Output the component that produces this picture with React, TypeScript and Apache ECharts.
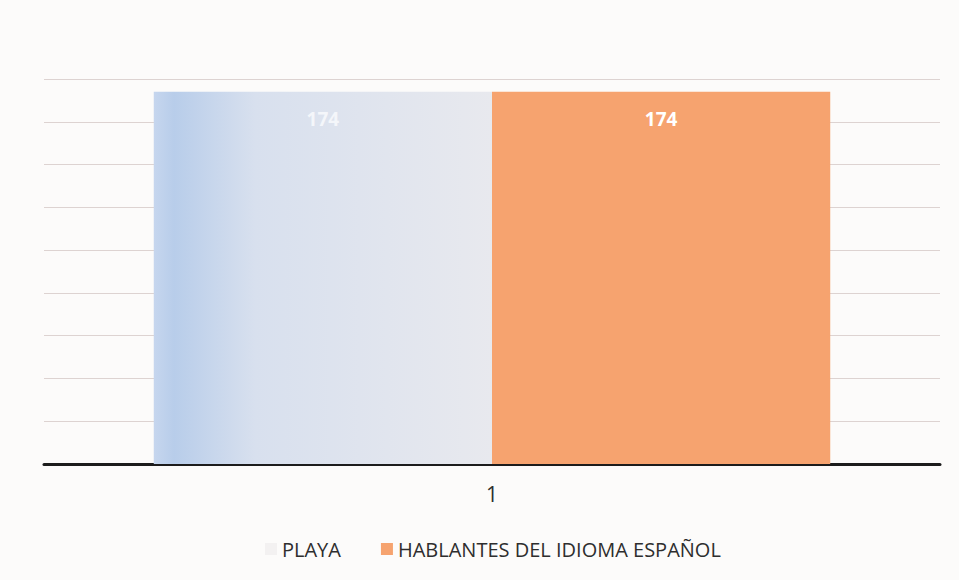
import React, { useEffect, useRef } from "react";
import * as echarts from "echarts";

const categories = ["1"];
const playaValues = [174];
const hablantesValues = [174];
const seriesNames = ["PLAYA", "HABLANTES DEL IDIOMA ESPAÑOL"];

export default function App() {
  const ref = useRef<HTMLDivElement>(null);
  useEffect(() => {
    if (!ref.current) return;
    const chart = echarts.init(ref.current, null, { renderer: "svg" });
    const font = "'Open Sans', 'Liberation Sans', sans-serif";
    chart.setOption({
      animation: false,
      backgroundColor: "#fcfbfa",
      grid: { left: 44, right: 19, top: 79, bottom: 116 },
      legend: {
        top: 534,
        left: 260,
        itemWidth: 12,
        itemHeight: 12,
        itemGap: 40,
        icon: "rect",
        textStyle: { color: "#2e2e2e", fontSize: 20, fontFamily: font },
        data: [
          { name: seriesNames[0], itemStyle: { color: "#f3f1f1" } },
          { name: seriesNames[1] },
        ],
      },
      xAxis: {
        type: "category",
        data: categories,
        axisLine: { lineStyle: { color: "#1c1c1c", width: 3 } },
        axisTick: { show: false },
        axisLabel: { color: "#2e2e2e", fontSize: 21, fontFamily: font, margin: 19 },
      },
      yAxis: {
        type: "value",
        min: 0,
        max: 180,
        interval: 20,
        axisLabel: { show: false },
        axisLine: { show: false },
        axisTick: { show: false },
        splitLine: { lineStyle: { color: "#ddd3d1", width: 1 } },
      },
      series: [
        {
          name: seriesNames[0],
          type: "bar",
          data: playaValues,
          barGap: "0%",
          barCategoryGap: "24.5%",
          itemStyle: {
            color: new echarts.graphic.LinearGradient(0, 0, 1, 0, [
              { offset: 0, color: "#c6d6ee" },
              { offset: 0.06, color: "#b8cdea" },
              { offset: 0.3, color: "#d8e0ee" },
              { offset: 1, color: "#e8e9ee" },
            ]),
          },
          label: {
            show: true,
            position: "insideTop",
            distance: 18,
            color: "#f4f6fa",
            fontSize: 19,
            fontWeight: "bold",
            fontFamily: font,
          },
        },
        {
          name: seriesNames[1],
          type: "bar",
          data: hablantesValues,
          itemStyle: { color: "#f6a36f" },
          label: {
            show: true,
            position: "insideTop",
            distance: 18,
            color: "#ffffff",
            fontSize: 19,
            fontWeight: "bold",
            fontFamily: font,
          },
        },
      ],
    });
    return () => chart.dispose();
  }, []);
  return (
    <div
      ref={ref}
      style={{ position: "absolute", left: 0, top: 0, width: 959, height: 580 }}
    />
  );
}
